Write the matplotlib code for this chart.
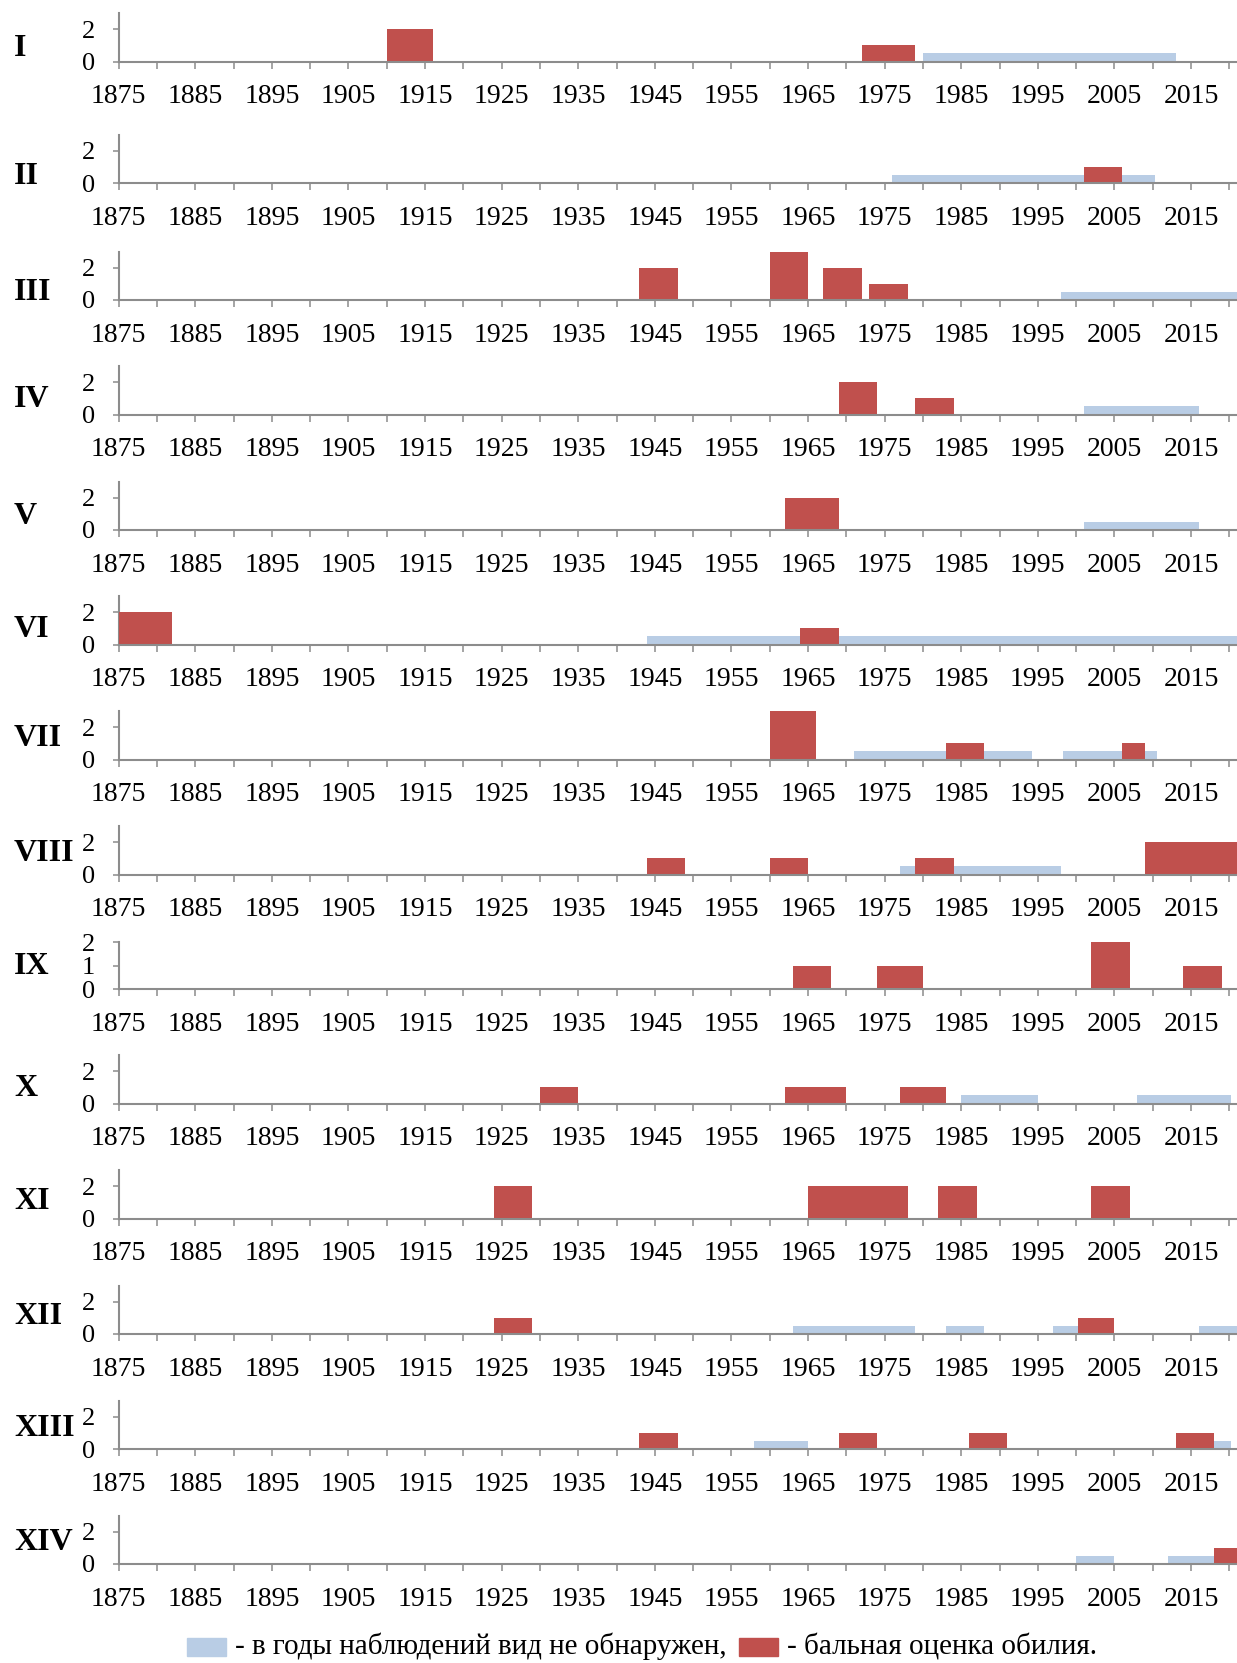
import matplotlib
matplotlib.use("Agg")
import matplotlib.pyplot as plt
import matplotlib.patches as mpatches
import numpy as np

plt.rcParams['font.family'] = ['Liberation Serif', 'DejaVu Serif']

# ---------------- data ----------------
panel_labels = ['I', 'II', 'III', 'IV', 'V', 'VI', 'VII', 'VIII', 'IX', 'X',
                'XI', 'XII', 'XIII', 'XIV']

# abundance score bars: (start year, end year, score)
red_I = [(1910, 1916, 2), (1972, 1979, 1)]
red_II = [(2001, 2006, 1)]
red_III = [(1943, 1948, 2), (1960, 1965, 3), (1967, 1972, 2), (1973, 1978, 1)]
red_IV = [(1969, 1974, 2), (1979, 1984, 1)]
red_V = [(1962, 1969, 2)]
red_VI = [(1875, 1882, 2), (1964, 1969, 1)]
red_VII = [(1960, 1966, 3), (1983, 1988, 1), (2006, 2009, 1)]
red_VIII = [(1944, 1949, 1), (1960, 1965, 1), (1979, 1984, 1), (2009, 2022, 2)]
red_IX = [(1963, 1968, 1), (1974, 1980, 1), (2002, 2007, 2), (2014, 2019, 1)]
red_X = [(1930, 1935, 1), (1962, 1970, 1), (1977, 1983, 1)]
red_XI = [(1924, 1929, 2), (1965, 1978, 2), (1982, 1987, 2), (2002, 2007, 2)]
red_XII = [(1924, 1929, 1), (2000.3, 2005, 1)]
red_XIII = [(1943, 1948, 1), (1969, 1974, 1), (1986, 1991, 1), (2013, 2018, 1)]
red_XIV = [(2018, 2022, 1)]

# years of observation when the species was not found: (start, end)
blue_I = [(1980, 2013)]
blue_II = [(1976, 2010.3)]
blue_III = [(1998, 2022)]
blue_IV = [(2001, 2016)]
blue_V = [(2001, 2016)]
blue_VI = [(1944, 2022)]
blue_VII = [(1971, 1994.3), (1998.3, 2010.5)]
blue_VIII = [(1977, 1998)]
blue_IX = []
blue_X = [(1985, 1995), (2008, 2020.2)]
blue_XI = []
blue_XII = [(1963, 1979), (1983, 1988), (1997, 2000.3), (2016, 2022)]
blue_XIII = [(1958, 1965), (2018, 2020.2)]
blue_XIV = [(2000, 2005), (2012, 2018)]
not_found_level = 0.5

red_bars = [red_I, red_II, red_III, red_IV, red_V, red_VI, red_VII, red_VIII,
            red_IX, red_X, red_XI, red_XII, red_XIII, red_XIV]
blue_bars = [blue_I, blue_II, blue_III, blue_IV, blue_V, blue_VI, blue_VII,
             blue_VIII, blue_IX, blue_X, blue_XI, blue_XII, blue_XIII, blue_XIV]

y_max = [3, 3, 3, 3, 3, 3, 3, 3, 2, 3, 3, 3, 3, 3]
y_ticks = [[0, 2]] * 8 + [[0, 1, 2]] + [[0, 2]] * 5

x_ticks = list(range(1875, 2021, 5))
x_tick_labels = ['1875', '1885', '1895', '1905', '1915', '1925', '1935', '1945',
                 '1955', '1965', '1975', '1985', '1995', '2005', '2015']

legend_texts = ['- в годы наблюдений вид не обнаружен,', '- бальная оценка обилия.']

# ---------------- style / layout ----------------
RED = '#C0504D'
BLUE = '#B9CDE5'
GREY = '#8C8C8C'
W, H = 1237, 1663
x0px = 118.6
baselines = [61.5, 183, 300, 414.5, 530, 644.5, 759.5, 874.5, 989, 1103.5,
             1218.5, 1334, 1449, 1564]
label_offsets = [12.5, 7, 7, 15, 14, 15, 21, 21, 23, 15, 17, 17.5, 20, 22]

fig = plt.figure(figsize=(W / 100, H / 100), dpi=100)

for i in range(14):
    hpx = 48.5 if y_max[i] == 3 else 46.6
    base = baselines[i]
    ax = fig.add_axes([x0px / W, 1 - base / H, (W - x0px) / W, hpx / H])
    ax.set_xlim(1875, 2021)
    ax.set_ylim(0, y_max[i])
    for (s, e) in blue_bars[i]:
        ax.bar(s, not_found_level, width=e - s, align='edge', color=BLUE,
               linewidth=0, zorder=2)
    for (s, e, v) in red_bars[i]:
        ax.bar(s, v, width=e - s, align='edge', color=RED, linewidth=0, zorder=3)

    ax.set_xticks(x_ticks)
    lbls = []
    for t in x_ticks:
        lbls.append(str(t) if str(t) in x_tick_labels else '')
    ax.set_xticklabels(lbls)
    ax.set_yticks(y_ticks[i])
    ax.set_yticklabels([str(v) for v in y_ticks[i]])
    ax.tick_params(axis='x', direction='out', length=5, width=1.1, color=GREY,
                   labelsize=20, pad=11.5)
    ax.tick_params(axis='y', direction='out', length=4.5, width=1.1, color=GREY,
                   labelsize=19, pad=12.5)
    for sp in ['top', 'right']:
        ax.spines[sp].set_visible(False)
    for sp in ['left', 'bottom']:
        ax.spines[sp].set_color(GREY)
        ax.spines[sp].set_linewidth(1.5)
    ax.spines['bottom'].set_zorder(4)
    ax.set_facecolor('none')

    fig.text(14 / W, 1 - (base - label_offsets[i]) / H, panel_labels[i],
             ha='left', va='center', fontsize=23, fontweight='bold')

# legend
ly = 1646.5
ph = 18
fig.patches.append(mpatches.Rectangle((187 / W, 1 - (ly + ph / 2) / H), 39 / W, ph / H,
                                      transform=fig.transFigure, color=BLUE))
fig.patches.append(mpatches.Rectangle((739 / W, 1 - (ly + ph / 2) / H), 39 / W, ph / H,
                                      transform=fig.transFigure, color=RED))
fig.text(235 / W, 1 - ly / H, legend_texts[0], ha='left', va='center', fontsize=21)
fig.text(787 / W, 1 - ly / H, legend_texts[1], ha='left', va='center', fontsize=21)

fig.savefig('out.png', dpi=100, facecolor='white')
